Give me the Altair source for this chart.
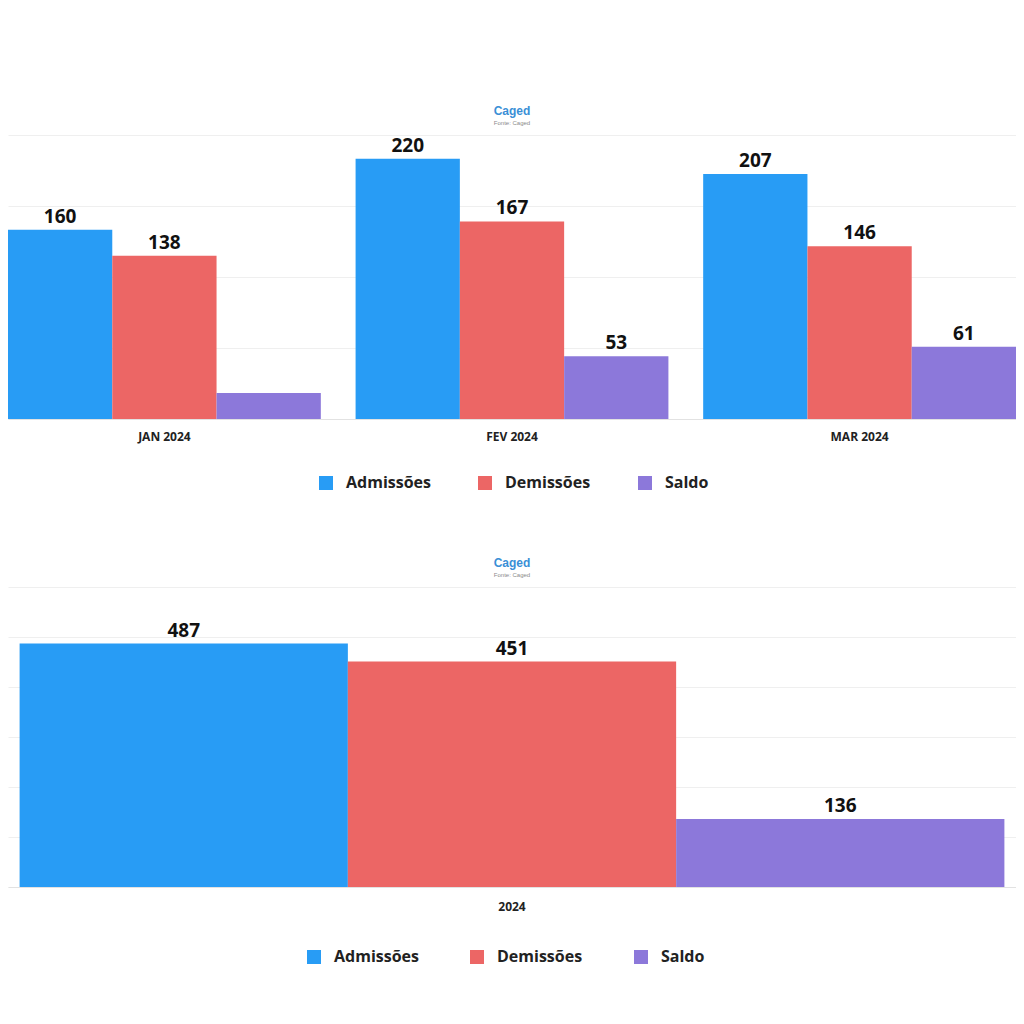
import altair as alt
import pandas as pd

# ---- data ----
series = ["Admissões", "Demissões", "Saldo"]
cores = ["#289CF5", "#EC6665", "#8C78DA"]

meses = ["JAN 2024", "FEV 2024", "MAR 2024"]
admissoes = [160, 220, 207]
demissoes = [138, 167, 146]
saldo = [22, 53, 61]
mostrar_rotulo_saldo = [False, True, True]

anos = ["2024"]
admissoes_ano = [487]
demissoes_ano = [451]
saldo_ano = [136]

grid_mensal = [0, 60, 120, 180, 240]
grid_anual = [0, 100, 200, 300, 400, 500, 600]


def build_df(periodos, a, d, s, show_s=None):
    rows = []
    for i, p in enumerate(periodos):
        for serie, vals in zip(series, [a, d, s]):
            v = vals[i]
            show = True
            if serie == "Saldo" and show_s is not None:
                show = show_s[i]
            rows.append({"periodo": p, "serie": serie, "valor": v,
                         "rotulo": str(v) if show else ""})
    return pd.DataFrame(rows)


df_mes = build_df(meses, admissoes, demissoes, saldo, mostrar_rotulo_saldo)
df_ano = build_df(anos, admissoes_ano, demissoes_ano, saldo_ano)

FONT = "Open Sans"


def make_chart(df, periodos, domain, grid_vals, height, pad_outer, legend_x, legend_y,
               col_pad, label_pad):
    x = alt.X("periodo:N", sort=periodos, title=None,
              scale=alt.Scale(paddingInner=0.1, paddingOuter=pad_outer),
              axis=alt.Axis(labelAngle=0, labelFont=FONT, labelFontWeight="bold",
                            labelFontSize=12, labelColor="#222222", labelPadding=label_pad,
                            ticks=False, grid=False, domainColor="#e2e2e2"))
    xo = alt.XOffset("serie:N", sort=series, scale=alt.Scale(paddingInner=0, paddingOuter=0))
    y = alt.Y("valor:Q", title=None, scale=alt.Scale(domain=domain, nice=False),
              axis=alt.Axis(values=grid_vals, labels=False, ticks=False, domain=False,
                            gridColor="#efefef", gridWidth=1))
    bars = alt.Chart(df).mark_bar().encode(
        x=x, xOffset=xo, y=y,
        color=alt.Color("serie:N", scale=alt.Scale(domain=series, range=cores),
                        legend=alt.Legend(title=None, orient="none", direction="horizontal",
                                          legendX=legend_x, legendY=legend_y,
                                          symbolType="square", symbolSize=196,
                                          symbolStrokeWidth=0, symbolOpacity=1,
                                          labelFont=FONT, labelFontSize=16,
                                          labelFontWeight="bold", labelColor="#222222",
                                          labelOffset=12, columnPadding=col_pad)),
    )
    text = alt.Chart(df).mark_text(baseline="bottom", dy=-3, fontSize=19,
                                   fontWeight="bold", font=FONT, color="#111111").encode(
        x=x, xOffset=xo, y=alt.Y("valor:Q"), text="rotulo:N")
    return alt.layer(bars, text).properties(
        width=1008, height=height,
        view=alt.ViewBackground(stroke="transparent", strokeWidth=0),
        title=alt.TitleParams("Caged", subtitle="Fonte: Caged", anchor="middle",
                              font="Liberation Sans", fontSize=12, fontWeight="bold",
                              color="#3A8FD6", subtitleFont="Liberation Sans",
                              subtitleFontSize=6, subtitleColor="#8a8a8a",
                              subtitlePadding=2, offset=8),
    )


top = make_chart(df_mes, meses, [0, 240], grid_mensal, 284, 0, 310, 340, 46, 12)
bottom = make_chart(df_ano, anos, [0, 600], grid_anual, 300, 0.0106, 298, 362, 50, 14)

chart = alt.vconcat(top, bottom, spacing=66).resolve_scale(
    color="independent", x="independent", y="independent", xOffset="independent"
).properties(
    padding={"top": 97, "left": 0, "right": 0, "bottom": 30}
).configure_view(stroke="transparent", strokeWidth=0).configure(background="white")

chart.save("out.html", embed_options={"renderer": "svg", "actions": False})
